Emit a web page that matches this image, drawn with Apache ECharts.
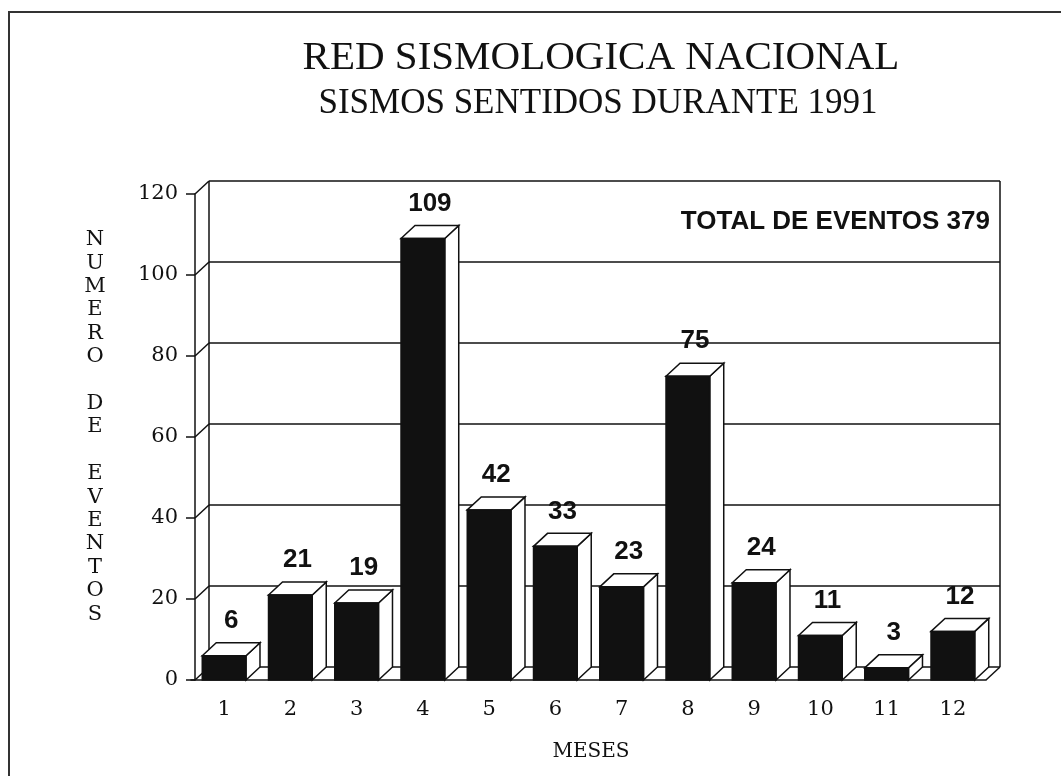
<!DOCTYPE html>
<html>
<head>
<meta charset="utf-8">
<title>Red Sismologica Nacional</title>
<script src="https://cdn.jsdelivr.net/npm/echarts/dist/echarts.min.js"></script>
<style>
  html, body { margin: 0; padding: 0; background: #fff; }
  #main { width: 1061px; height: 776px; }
</style>
</head>
<body>
<div id="main"></div>
<script>
// datos
var meses = ['1', '2', '3', '4', '5', '6', '7', '8', '9', '10', '11', '12'];
var sismos = [6, 21, 19, 109, 42, 33, 23, 75, 24, 11, 3, 12];
var marcasY = [0, 20, 40, 60, 80, 100, 120];
var totalEventos = 379;

// efecto 3D: desplazamiento de la profundidad
var DX = 14, DY = -13;
var AXIS_SHIFT = 4;
var negro = '#111';
var serif = '"DejaVu Serif", serif';

var myChart = echarts.init(document.getElementById('main'));

function paredes(params, api) {
    var cs = params.coordSys;
    var y = api.coord([0, api.value(1)])[1];
    var x0 = cs.x + AXIS_SHIFT;
    var x1 = cs.x + cs.width;
    var st = { stroke: negro, lineWidth: 1.5, fill: null };
    var hijos = [
        { type: 'line', shape: { x1: x0, y1: y, x2: x0 + DX, y2: y + DY }, style: st },
        { type: 'line', shape: { x1: x0 + DX, y1: y + DY, x2: x1 + DX, y2: y + DY }, style: st }
    ];
    if (params.dataIndex === 0) {
        var yTop = api.coord([0, marcasY[marcasY.length - 1]])[1];
        hijos.push({ type: 'line', shape: { x1: x0 + DX, y1: y + DY, x2: x0 + DX, y2: yTop + DY }, style: st });
        hijos.push({ type: 'line', shape: { x1: x1 + DX, y1: y + DY, x2: x1 + DX, y2: yTop + DY }, style: st });
        hijos.push({ type: 'line', shape: { x1: x1, y1: y, x2: x1 + DX, y2: y + DY }, style: st });
    }
    return { type: 'group', children: hijos };
}

function barra3d(params, api) {
    var idx = api.value(0), val = api.value(1);
    var top = api.coord([idx, val]);
    var base = api.coord([idx, 0]);
    var w = api.size([1, 0])[0] * 0.66;
    var xL = top[0] - w / 2, xR = top[0] + w / 2;
    var yT = top[1], yB = base[1];
    return {
        type: 'group',
        children: [
            { type: 'polygon', shape: { points: [[xR, yT], [xR + DX, yT + DY], [xR + DX, yB + DY], [xR, yB]] },
              style: { fill: '#fff', stroke: negro, lineWidth: 1.5 } },
            { type: 'polygon', shape: { points: [[xL, yT], [xL + DX, yT + DY], [xR + DX, yT + DY], [xR, yT]] },
              style: { fill: '#fff', stroke: negro, lineWidth: 1.5 } },
            { type: 'rect', shape: { x: xL, y: yT, width: w, height: yB - yT },
              style: { fill: negro, stroke: negro, lineWidth: 1.5 } },
            { type: 'text', style: {
                text: String(val), x: top[0] + DX / 2, y: yT - 35,
                align: 'center', verticalAlign: 'middle',
                fontSize: 26, fontWeight: 'bold', fontFamily: '"Liberation Sans", Arial, sans-serif',
                fill: negro } }
        ]
    };
}

var option = {
    backgroundColor: '#fff',
    animation: false,
    grid: { left: 191, right: 75, top: 194, bottom: 96 },
    xAxis: {
        type: 'category',
        data: meses,
        axisLine: { lineStyle: { color: negro, width: 1.5 } },
        axisTick: { alignWithLabel: true, length: 9, lineStyle: { color: negro, width: 1.5 } },
        axisLabel: { color: negro, fontSize: 21, fontFamily: serif, margin: 19 },
        splitLine: { show: false }
    },
    yAxis: {
        type: 'value',
        min: 0, max: 120, interval: 20,
        offset: -AXIS_SHIFT,
        axisLine: { show: true, lineStyle: { color: negro, width: 1.5 } },
        axisTick: { show: true, length: 9, lineStyle: { color: negro, width: 1.5 } },
        axisLabel: { color: negro, fontSize: 21, fontFamily: serif, margin: 17 },
        splitLine: { show: false }
    },
    graphic: [
        { type: 'polyline', shape: { points: [[9, 776], [9, 12], [1061, 12]] },
          style: { stroke: '#333', lineWidth: 2, fill: null } },
        { type: 'text', x: 601, y: 58, style: {
            text: 'RED SISMOLOGICA NACIONAL', align: 'center', verticalAlign: 'middle',
            fontSize: 41, fontFamily: '"Liberation Serif", serif', fill: negro } },
        { type: 'text', x: 598, y: 104, style: {
            text: 'SISMOS SENTIDOS DURANTE 1991', align: 'center', verticalAlign: 'middle',
            fontSize: 35, fontFamily: '"Liberation Serif", serif', fill: negro } },
        { type: 'text', x: 990, y: 222, style: {
            text: 'TOTAL DE EVENTOS ' + totalEventos, align: 'right', verticalAlign: 'middle',
            fontSize: 26, fontWeight: 'bold', fontFamily: '"Liberation Sans", Arial, sans-serif', fill: negro } },
        { type: 'text', x: 95, y: 228, style: {
            text: 'NUMERO DE EVENTOS'.split('').join('\n'), align: 'center', verticalAlign: 'top',
            fontSize: 21, lineHeight: 23.4, fontFamily: serif, fill: negro } },
        { type: 'text', x: 591, y: 752, style: {
            text: 'MESES', align: 'center', verticalAlign: 'middle',
            fontSize: 20, fontFamily: serif, fill: negro } }
    ],
    series: [
        {
            name: 'paredes',
            type: 'custom',
            renderItem: paredes,
            data: marcasY.map(function (v) { return [0, v]; }),
            silent: true,
            z: 1
        },
        {
            name: 'sismos',
            type: 'custom',
            renderItem: barra3d,
            data: sismos.map(function (v, i) { return [i, v]; }),
            z: 3
        }
    ]
};
myChart.setOption(option);
</script>
</body>
</html>
